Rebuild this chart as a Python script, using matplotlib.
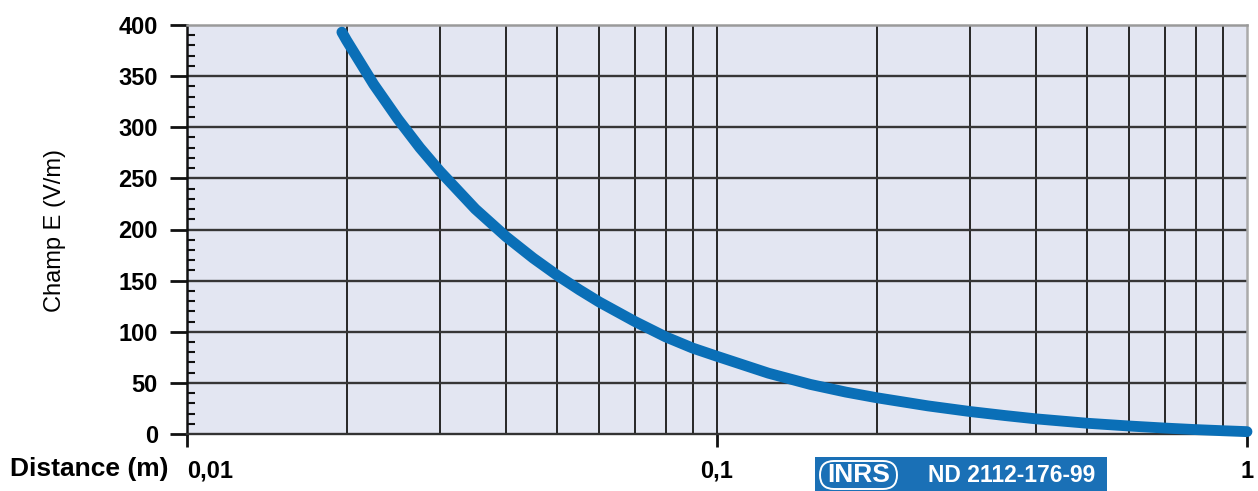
import matplotlib
matplotlib.use("Agg")
import matplotlib.pyplot as plt
from matplotlib.ticker import FixedLocator, NullFormatter
from matplotlib.patches import Rectangle, FancyBboxPatch

# Data
distance_m = [0.0196, 0.02, 0.0225, 0.025, 0.0275, 0.03, 0.035, 0.04, 0.045,
              0.05, 0.055, 0.06, 0.07, 0.08, 0.09, 0.1, 0.125, 0.15, 0.175,
              0.2, 0.25, 0.3, 0.35, 0.4, 0.5, 0.6, 0.7, 0.8, 0.9, 1.0]
champ_e = [393, 385, 342, 308, 280, 257, 220, 193, 172,
           155, 141, 129, 110, 95, 84, 76, 59.5, 48.5, 41,
           35.5, 27.5, 22, 18, 14.8, 10.5, 7.8, 5.8, 4.3, 3.2, 2.3]

x_major = [0.01, 0.1, 1]
x_major_labels = ["0,01", "0,1", "1"]
x_grid = [0.02, 0.03, 0.04, 0.05, 0.06, 0.07, 0.08, 0.09, 0.1,
          0.2, 0.3, 0.4, 0.5, 0.6, 0.7, 0.8, 0.9]
y_major = [0, 50, 100, 150, 200, 250, 300, 350, 400]

plt.rcParams['font.family'] = ['Liberation Sans', 'DejaVu Sans']

W, H = 1258, 491
fig = plt.figure(figsize=(W / 100, H / 100), dpi=100)
ax = fig.add_axes([187 / W, 57 / H, 1060 / W, 409 / H])
ax.set_facecolor('#e3e6f2')
ax.set_xscale('log')
ax.set_xlim(0.01, 1)
ax.set_ylim(0, 400)

# grid
for xv in x_grid:
    ax.axvline(xv, color='#262626', lw=1.4, zorder=1)
for yv in y_major[1:-1]:
    ax.axhline(yv, color='#363636', lw=1.7, zorder=1)

ax.plot(distance_m, champ_e, color='#0a6fb7', lw=7.8, solid_capstyle='round',
        solid_joinstyle='round', zorder=3, clip_on=False)

# spines
ax.spines['left'].set_color('#111111')
ax.spines['left'].set_linewidth(1.8)
ax.spines['bottom'].set_color('#333333')
ax.spines['bottom'].set_linewidth(1.7)
ax.spines['top'].set_color('#9a9a9a')
ax.spines['top'].set_linewidth(1.8)
ax.spines['right'].set_color('#aaaaaa')
ax.spines['right'].set_linewidth(1.8)

# y ticks
ax.yaxis.set_major_locator(FixedLocator(y_major))
ax.set_yticklabels([str(v) for v in y_major], fontsize=17, fontweight='bold')
ax.yaxis.set_minor_locator(FixedLocator([v for v in range(0, 401, 10) if v % 50]))
ax.tick_params(axis='y', which='major', direction='out', length=12, width=2,
               color='#111111', pad=9)
ax.tick_params(axis='y', which='minor', direction='in', length=6, width=1.5,
               color='#111111')

# x ticks
ax.xaxis.set_major_locator(FixedLocator(x_major))
ax.xaxis.set_minor_locator(FixedLocator([]))
ax.xaxis.set_minor_formatter(NullFormatter())
ax.set_xticklabels(x_major_labels, fontsize=17, fontweight='bold')
ax.tick_params(axis='x', which='major', direction='out', length=9.5, width=2,
               color='#111111', pad=9)
ax.get_xticklabels()[0].set_horizontalalignment('left')

fig.text(55 / W, 1 - 231 / H, 'Champ E (V/m)', fontsize=17, rotation=90,
         ha='center', va='center')
fig.text(10 / W, 1 - 469 / H, 'Distance (m)', fontsize=19, fontweight='bold',
         ha='left', va='center')

# INRS banner drawn in a pixel-coordinate overlay
ov = fig.add_axes([0, 0, 1, 1], facecolor='none')
ov.set_xlim(0, W)
ov.set_ylim(H, 0)
ov.axis('off')
ov.add_patch(Rectangle((815, 457), 292, 40, facecolor='#1a70b6', edgecolor='none'))
ov.add_patch(FancyBboxPatch((820, 461), 77, 28,
                            boxstyle='round,pad=0,rounding_size=14',
                            facecolor='none', edgecolor='white', lw=1.4))
ov.text(858.5, 475.5, 'INRS', color='white', fontsize=19, fontweight='bold',
        ha='center', va='center')
ov.text(1012, 475, 'ND 2112-176-99', color='white', fontsize=16.5,
        fontweight='bold', ha='center', va='center')

fig.savefig('out.png', dpi=100)
